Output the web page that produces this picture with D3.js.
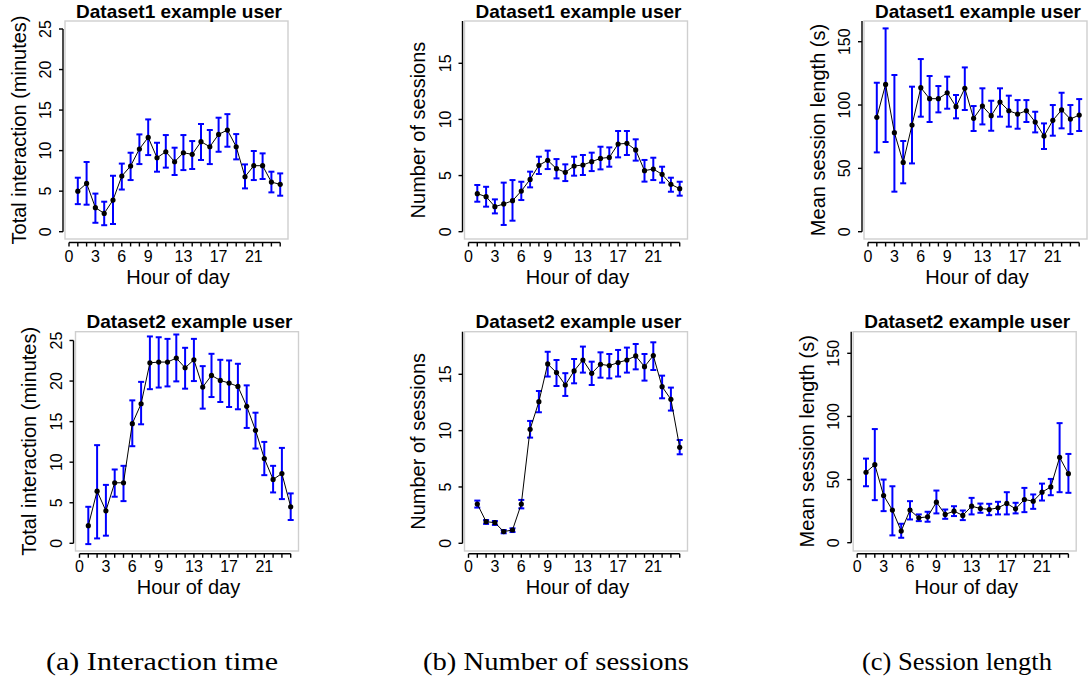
<!DOCTYPE html>
<html>
<head>
<meta charset="utf-8">
<script src="https://cdn.jsdelivr.net/npm/d3@7"></script>
<style>
  html, body { margin: 0; padding: 0; background: #ffffff; }
  svg { display: block; }
  text { font-family: "Liberation Sans", Arial, Helvetica, sans-serif; fill: #000; }
</style>
</head>
<body>
<svg id="chart" width="1092" height="681"></svg>
<script>
// ---------------- DATA ----------------
const hours = [1,2,3,4,5,6,7,8,9,10,11,12,13,14,15,16,17,18,19,20,21,22,23,24];
const xTicks = [0,1,2,3,4,5,6,7,8,9,10,11,12,13,14,15,16,17,18,19,20,21,22,23,24];
const xTickLabels = [0,3,6,9,13,17,21];

const titles = ["Dataset1 example user","Dataset1 example user","Dataset1 example user",
                "Dataset2 example user","Dataset2 example user","Dataset2 example user"];
const yLabels = ["Total interaction (minutes)","Number of sessions","Mean session length (s)",
                 "Total interaction (minutes)","Number of sessions","Mean session length (s)"];
const xLabel = "Hour of day";
const captions = ["(a) Interaction time","(b) Number of sessions","(c) Session length"];

const yTicksInteraction = [0,5,10,15,20,25];
const yTicksSessions = [0,5,10,15];
const yTicksLength = [0,50,100,150];

// Dataset1 — total interaction (minutes)
const d1Inter   = [5.0,5.96,2.96,2.26,3.9,6.86,8.1,10.2,11.63,9.12,9.86,8.63,9.74,9.54,11.1,10.48,12.0,12.54,10.48,6.78,8.14,8.14,6.12,5.84];
const d1InterHi = [6.66,8.6,4.7,3.7,6.9,8.4,9.74,12.0,13.85,10.97,11.92,10.36,11.92,11.18,13.28,12.54,14.06,14.5,12.04,8.3,9.95,9.66,7.4,7.19];
const d1InterLo = [3.4,3.33,1.1,0.8,0.95,5.2,6.37,8.34,9.45,7.4,7.9,6.99,7.6,7.73,8.84,8.34,9.86,10.48,8.92,5.34,6.37,6.5,4.85,4.44];

// Dataset1 — number of sessions
const d1Sess   = [3.39,3.12,2.23,2.47,2.76,3.62,4.66,5.91,6.36,5.61,5.29,5.85,5.94,6.24,6.53,6.62,7.81,7.87,7.28,5.44,5.58,5.11,4.22,3.83];
const d1SessHi = [4.16,4.0,2.88,4.37,4.6,4.45,5.35,6.68,7.22,6.47,6.0,6.68,6.83,7.04,7.57,7.51,8.97,8.97,8.23,6.39,6.59,5.79,4.81,4.45];
const d1SessLo = [2.67,2.23,1.63,0.6,0.98,2.82,3.95,5.14,5.58,4.75,4.51,4.99,5.05,5.4,5.55,5.79,6.62,6.83,6.33,4.46,4.6,4.37,3.56,3.21];

// Dataset1 — mean session length (s)
const d1Len   = [90.3,116.3,78.2,54.7,84.2,113.7,105,105,109.7,98.7,113.2,89.5,99.2,91.6,102.4,95.5,92.9,95.5,86.6,75.5,87.9,96.1,88.9,92.1];
const d1LenHi = [117.6,160.5,123.7,71.6,114.5,136.3,122.9,115,122.4,107.9,129.7,99.2,113.2,103.4,113.2,107.4,103.9,103.9,94.7,85.5,100,109.7,100,104.7];
const d1LenLo = [62.6,70.8,31.6,38.2,53.9,90.8,86.6,94.2,97.1,89.5,96.1,79.5,84.7,79.7,90.8,82.9,81.3,86.6,78.4,65.3,75.8,81.6,77.1,79.5];

// Dataset2 — total interaction (minutes)
const d2Inter   = [2.17,6.43,4.0,7.46,7.46,14.75,17.2,22.25,22.34,22.34,22.83,21.64,22.62,19.26,20.7,20.08,19.75,19.34,16.89,13.93,10.45,7.87,8.6,4.5];
const d2InterHi = [4.5,12.1,7.2,9.1,9.55,17.62,19.9,25.5,25.4,25.2,25.74,24.1,25.2,21.84,23.36,22.62,22.54,22.13,19.47,16.1,12.5,9.55,11.76,6.15];
const d2InterLo = [-0.1,0.6,0.94,5.74,5.2,11.97,14.67,19.0,19.2,19.34,19.96,19.06,20.0,16.6,18.03,17.42,16.8,16.52,14.22,11.68,8.4,6.27,5.45,2.87];

// Dataset2 — number of sessions
const d2Sess   = [3.49,1.92,1.83,1.04,1.18,3.49,10.12,12.57,15.92,15.15,14.05,15.3,16.27,15.09,15.89,15.77,16.04,16.27,16.63,15.68,16.66,13.9,12.78,8.52];
const d2SessHi = [3.79,2.07,1.98,1.18,1.33,3.85,10.86,13.52,17.0,16.27,15.1,16.36,17.46,16.12,16.95,16.8,17.16,17.37,17.69,16.8,17.84,14.88,13.82,9.17];
const d2SessLo = [3.17,1.72,1.63,0.89,1.0,3.1,9.38,11.63,14.8,13.96,13.08,14.2,15.15,14.05,14.7,14.64,14.8,15.15,15.44,14.44,15.38,12.87,11.78,7.9];

// Dataset2 — mean session length (s)
const d2Len   = [55.8,61.8,37.4,25.8,9.2,25.8,19.7,20.5,32.1,22.4,25,21.6,28.9,27.1,26.3,27.6,31.1,26.8,34.2,32.9,40,44.2,67.6,54.7];
const d2LenHi = [66.6,90,50,44.7,15,32.9,22.4,24.5,41.3,26.3,28.9,25.5,35.5,31,30.8,32.4,40,31.6,43.4,38.2,46.8,50.5,94.7,70.3];
const d2LenLo = [44.7,33.7,25,5.8,3.9,18.4,17.1,16.6,23.2,18.9,21.1,17.9,22.4,23.7,21.8,22.4,22.4,23.2,24.2,26.8,33.4,37.6,40,39.5];

// ---------------- LAYOUT ----------------
const layout = [
  { x0: 69.0,  y0: 231.7, yTopPx: 29.0,  yMax: 25,  boxTop: 21,    boxBot: 239,   axisY: 242.5, tickLabY: 262 },
  { x0: 468.5, y0: 231.7, yTopPx: 63.3,  yMax: 15,  boxTop: 21,    boxBot: 239,   axisY: 242.5, tickLabY: 262 },
  { x0: 868.0, y0: 231.7, yTopPx: 41.7,  yMax: 150, boxTop: 21,    boxBot: 239,   axisY: 242.5, tickLabY: 262 },
  { x0: 79.5,  y0: 543.3, yTopPx: 340.5, yMax: 25,  boxTop: 331.7, boxBot: 551,   axisY: 553.8, tickLabY: 572 },
  { x0: 468.5, y0: 543.3, yTopPx: 374.3, yMax: 15,  boxTop: 331.7, boxBot: 551,   axisY: 553.8, tickLabY: 572 },
  { x0: 857.2, y0: 542.7, yTopPx: 353.3, yMax: 150, boxTop: 331.7, boxBot: 551,   axisY: 553.8, tickLabY: 572 }
];
const pxPerHour = 8.8;

const panels = [
  { mean: d1Inter, hi: d1InterHi, lo: d1InterLo, yTicks: yTicksInteraction },
  { mean: d1Sess,  hi: d1SessHi,  lo: d1SessLo,  yTicks: yTicksSessions },
  { mean: d1Len,   hi: d1LenHi,   lo: d1LenLo,   yTicks: yTicksLength },
  { mean: d2Inter, hi: d2InterHi, lo: d2InterLo, yTicks: yTicksInteraction },
  { mean: d2Sess,  hi: d2SessHi,  lo: d2SessLo,  yTicks: yTicksSessions },
  { mean: d2Len,   hi: d2LenHi,   lo: d2LenLo,   yTicks: yTicksLength }
];

const svg = d3.select("#chart");
const BLUE = "#0000ff";

panels.forEach((p, i) => {
  const L = layout[i];
  const x = d3.scaleLinear().domain([0, 24]).range([L.x0, L.x0 + 24 * pxPerHour]);
  const y = d3.scaleLinear().domain([0, L.yMax]).range([L.y0, L.yTopPx]);
  const axisX = L.x0 - 6;
  const g = svg.append("g");

  // gray frame
  g.append("rect")
    .attr("x", L.x0 - 4).attr("y", L.boxTop)
    .attr("width", 223).attr("height", L.boxBot - L.boxTop)
    .attr("fill", "none").attr("stroke", "#cfcfcf").attr("stroke-width", 1.4);

  // y axis
  g.append("line")
    .attr("x1", axisX).attr("x2", axisX)
    .attr("y1", y(0)).attr("y2", L.yMax === 25 ? y(25) : L.boxTop)
    .attr("stroke", "#000").attr("stroke-width", 1.4);
  p.yTicks.forEach(t => {
    g.append("line")
      .attr("x1", axisX - 4).attr("x2", axisX)
      .attr("y1", y(t)).attr("y2", y(t))
      .attr("stroke", "#000").attr("stroke-width", 1.4);
    g.append("text")
      .attr("transform", `translate(${axisX - 12},${y(t)}) rotate(-90)`)
      .attr("text-anchor", "middle")
      .style("font-size", "16px")
      .text(t);
  });

  // x axis
  g.append("line")
    .attr("x1", x(0)).attr("x2", x(24))
    .attr("y1", L.axisY).attr("y2", L.axisY)
    .attr("stroke", "#000").attr("stroke-width", 1.4);
  xTicks.forEach(t => {
    g.append("line")
      .attr("x1", x(t)).attr("x2", x(t))
      .attr("y1", L.axisY).attr("y2", L.axisY + 4)
      .attr("stroke", "#000").attr("stroke-width", 1.4);
  });
  xTickLabels.forEach(t => {
    g.append("text")
      .attr("x", x(t)).attr("y", L.tickLabY)
      .attr("text-anchor", "middle")
      .style("font-size", "16px")
      .text(t);
  });

  // labels
  g.append("text")
    .attr("x", L.x0 + 110).attr("y", L.boxTop - 3.5)
    .attr("text-anchor", "middle")
    .style("font-size", "19px").style("font-weight", "bold")
    .text(titles[i]);
  g.append("text")
    .attr("x", L.x0 + 109).attr("y", L.tickLabY + 21.5)
    .attr("text-anchor", "middle")
    .style("font-size", "20px")
    .text(xLabel);
  g.append("text")
    .attr("transform", `translate(${axisX - 37.5},${(L.boxTop + L.boxBot) / 2}) rotate(-90)`)
    .attr("text-anchor", "middle")
    .style("font-size", "20px")
    .text(yLabels[i]);

  // error bars
  const eb = g.append("g").attr("stroke", BLUE).attr("stroke-width", 2).attr("fill", "none");
  hours.forEach((h, k) => {
    eb.append("line").attr("x1", x(h)).attr("x2", x(h)).attr("y1", y(p.lo[k])).attr("y2", y(p.hi[k]));
    eb.append("line").attr("x1", x(h) - 3).attr("x2", x(h) + 3).attr("y1", y(p.hi[k])).attr("y2", y(p.hi[k]));
    eb.append("line").attr("x1", x(h) - 3).attr("x2", x(h) + 3).attr("y1", y(p.lo[k])).attr("y2", y(p.lo[k]));
  });

  // line + points
  const line = d3.line().x((d, k) => x(hours[k])).y(d => y(d));
  g.append("path").datum(p.mean).attr("d", line)
    .attr("fill", "none").attr("stroke", "#000").attr("stroke-width", 1);
  g.selectAll("circle.pt").data(p.mean).enter().append("circle")
    .attr("cx", (d, k) => x(hours[k])).attr("cy", d => y(d)).attr("r", 2.6)
    .attr("fill", "#000");
});

// captions
const capX = [46, 423, 862];
const capW = [232, 266, 190];
captions.forEach((c, i) => {
  svg.append("text")
    .attr("x", capX[i]).attr("y", 670)
    .attr("textLength", capW[i]).attr("lengthAdjust", "spacingAndGlyphs")
    .style("font-family", "'Liberation Serif', 'Times New Roman', serif")
    .style("font-size", "25px")
    .text(c);
});
</script>
</body>
</html>
